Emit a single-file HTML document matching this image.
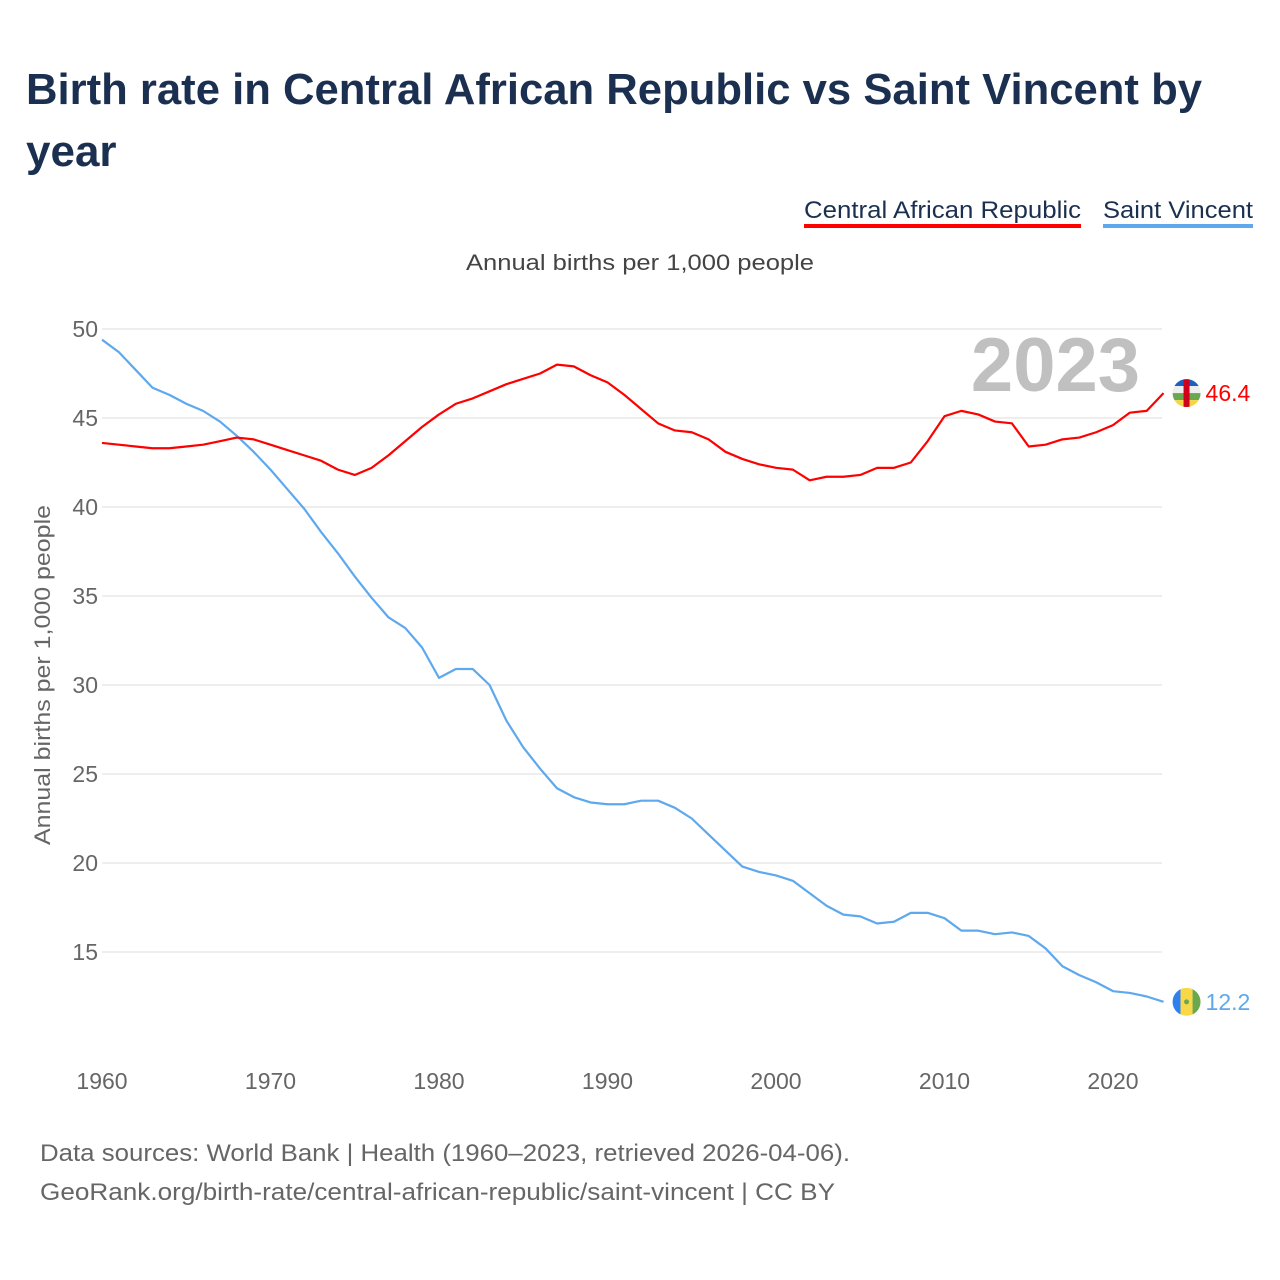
<!DOCTYPE html>
<html><head><meta charset="utf-8"><style>
body{margin:0;background:#fff;font-family:"Liberation Sans",sans-serif;}
#wrap{position:relative;width:1280px;height:1280px;overflow:hidden}
</style></head><body><div id="wrap">
<svg id="chart" width="1280" height="1280" style="position:absolute;left:0;top:0">
<text x="26" y="104" font-size="44" font-weight="bold" fill="#1b3050" textLength="1176" lengthAdjust="spacingAndGlyphs">Birth rate in Central African Republic vs Saint Vincent by</text>
<text x="26" y="166" font-size="44" font-weight="bold" fill="#1b3050">year</text>
<g><text x="804" y="218" font-size="24" fill="#1b3050" textLength="277" lengthAdjust="spacingAndGlyphs">Central African Republic</text><rect x="804" y="224" width="277" height="4" fill="#ff0000"/></g>
<g><text x="1103" y="218" font-size="24" fill="#1b3050" textLength="150" lengthAdjust="spacingAndGlyphs">Saint Vincent</text><rect x="1103" y="224" width="150" height="4" fill="#5ea8ee"/></g>
<text x="466" y="270" font-size="22" fill="#444" textLength="348" lengthAdjust="spacingAndGlyphs">Annual births per 1,000 people</text>
<text transform="translate(50,845) rotate(-90)" font-size="22" fill="#666" textLength="340" lengthAdjust="spacingAndGlyphs">Annual births per 1,000 people</text>
<text x="1140" y="391" text-anchor="end" font-size="76" font-weight="bold" fill="#c0c0c0">2023</text>
<g id="grid"></g><g id="lines"></g><g id="ends"></g>
<text x="40" y="1161" font-size="24" fill="#666" textLength="810" lengthAdjust="spacingAndGlyphs">Data sources: World Bank | Health (1960–2023, retrieved 2026-04-06).</text>
<text x="40" y="1200" font-size="24" fill="#666" textLength="795" lengthAdjust="spacingAndGlyphs">GeoRank.org/birth-rate/central-african-republic/saint-vincent | CC BY</text>
</svg></div>
<script>
const years=[];for(let y=1960;y<=2023;y++)years.push(y);
const carValues=[43.6,43.5,43.4,43.3,43.3,43.4,43.5,43.7,43.9,43.8,43.5,43.2,42.9,42.6,42.1,41.8,42.2,42.9,43.7,44.5,45.2,45.8,46.1,46.5,46.9,47.2,47.5,48.0,47.9,47.4,47.0,46.3,45.5,44.7,44.3,44.2,43.8,43.1,42.7,42.4,42.2,42.1,41.5,41.7,41.7,41.8,42.2,42.2,42.5,43.7,45.1,45.4,45.2,44.8,44.7,43.4,43.5,43.8,43.9,44.2,44.6,45.3,45.4,46.4];
const vctValues=[49.4,48.7,47.7,46.7,46.3,45.8,45.4,44.8,44.0,43.1,42.1,41.0,39.9,38.6,37.4,36.1,34.9,33.8,33.2,32.1,30.4,30.9,30.9,30.0,28.0,26.5,25.3,24.2,23.7,23.4,23.3,23.3,23.5,23.5,23.1,22.5,21.6,20.7,19.8,19.5,19.3,19.0,18.3,17.6,17.1,17.0,16.6,16.7,17.2,17.2,16.9,16.2,16.2,16.0,16.1,15.9,15.2,14.2,13.7,13.3,12.8,12.7,12.5,12.2];
const yTicks=[15,20,25,30,35,40,45,50];
const xTicks=[1960,1970,1980,1990,2000,2010,2020];
const NS='http://www.w3.org/2000/svg';
const xs=y=>102+(y-1960)*(1113-102)/60;
const ys=v=>329+(50-v)*(952-329)/35;
function mk(t,a,p){const e=document.createElementNS(NS,t);for(const k in a)e.setAttribute(k,a[k]);p.appendChild(e);return e;}
const grid=document.getElementById('grid');
yTicks.forEach(v=>{
const l=mk('line',{x1:102,x2:1162,y1:ys(v),y2:ys(v),stroke:'#e8e8e8','stroke-width':1.5},grid);


const t=mk('text',{x:98,y:ys(v)+8,'text-anchor':'end','font-size':23,fill:'#666'},grid);t.textContent=v;


});
xTicks.forEach(y=>{
const t=mk('text',{x:xs(y),y:1089,'text-anchor':'middle','font-size':23,fill:'#666'},grid);t.textContent=y;


});
const lines=document.getElementById('lines');
function series(vals,color,name){
const p=mk('polyline',{points:vals.map((v,i)=>xs(years[i])+','+ys(v)).join(' '),fill:'none',stroke:color,'stroke-width':2.2,'stroke-linejoin':'round'},lines);


}
series(vctValues,'#5ea8ee','line-saint-vincent');
series(carValues,'#ff0000','line-car');
const ends=document.getElementById('ends');
const lx=xs(2023);
const carY=ys(carValues[carValues.length-1]),vY=ys(vctValues[vctValues.length-1]);
const g1=mk('g',{},ends);


const cp1=mk('clipPath',{id:'c1'},g1);mk('circle',{cx:lx+23,cy:carY,r:14},cp1);
const fg=mk('g',{'clip-path':'url(#c1)'},g1);
['#1c5fbf','#eeeeee','#6aa84f','#f5d447'].forEach((c,i)=>mk('rect',{x:lx+9,y:carY-14+i*7,width:28,height:7,fill:c},fg));
mk('rect',{x:lx+20,y:carY-14,width:6,height:28,fill:'#d0021b'},fg);
const t1=mk('text',{x:lx+42,y:carY+8,'font-size':23,fill:'#ff0000'},ends);t1.textContent=carValues[carValues.length-1].toFixed(1);


const g2=mk('g',{},ends);


const cp=mk('clipPath',{id:'c2'},g2);mk('circle',{cx:lx+23,cy:vY,r:14},cp);
const fg2=mk('g',{'clip-path':'url(#c2)'},g2);
mk('rect',{x:lx+9,y:vY-14,width:8,height:28,fill:'#2f80ed'},fg2);
mk('rect',{x:lx+17,y:vY-14,width:12,height:28,fill:'#f9d848'},fg2);
mk('rect',{x:lx+29,y:vY-14,width:8,height:28,fill:'#6aa84f'},fg2);
mk('circle',{cx:lx+23,cy:vY,r:2.5,fill:'#6aa84f'},fg2);
const t2=mk('text',{x:lx+42,y:vY+8,'font-size':23,fill:'#5ea8ee'},ends);t2.textContent=vctValues[vctValues.length-1].toFixed(1);


</script></body></html>
